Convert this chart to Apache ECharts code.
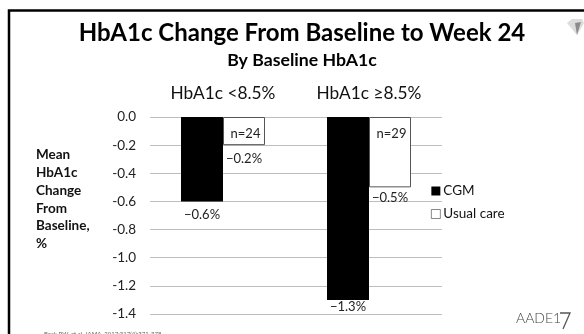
<!DOCTYPE html>
<html>
<head>
<meta charset="utf-8">
<style>html,body{margin:0;padding:0;background:#fff}#c{width:584px;height:334px}</style>
<script src="https://cdn.jsdelivr.net/npm/echarts@6/dist/echarts.min.js"></script>
</head>
<body>
<div id="c"></div>
<script>
// HbA1c change by baseline group
const categories = ['HbA1c <8.5%', 'HbA1c ≥8.5%'];
const cgmValues = [-0.6, -1.3];
const usualValues = [-0.2, -0.5];
const sampleSizes = ['n=24', 'n=29'];
const seriesNames = ['CGM', 'Usual care'];
const FONT = 'Lato, "Open Sans", sans-serif';
const minus = v => '\u2212' + Math.abs(v).toFixed(1) + '%';

const labelBase = {show: true, position: 'bottom', fontFamily: FONT, fontSize: 13, color: '#222',
  formatter: p => minus(p.value)};

const chart = echarts.init(document.getElementById('c'), null, {renderer: 'canvas'});
chart.setOption({
  animation: false,
  backgroundColor: '#fff',
  textStyle: {fontFamily: FONT},
  grid: {left: 150, right: 142, top: 117, bottom: 20},
  legend: {
    left: 431, top: 183, padding: 0, orient: 'vertical', itemWidth: 9, itemHeight: 9, itemGap: 7,
    icon: 'rect',
    itemStyle: {borderWidth: 0.7},
    textStyle: {fontFamily: FONT, fontSize: 13.5, color: '#111', padding: [0, 0, 0, -2], lineHeight: 16},
    data: seriesNames
  },
  xAxis: {
    type: 'category', position: 'top', data: categories,
    axisLine: {show: false}, axisTick: {show: false},
    axisLabel: {fontFamily: FONT, fontSize: 17.3, color: '#111', margin: 15}
  },
  yAxis: {
    type: 'value', min: -1.4, max: 0, interval: 0.2,
    axisLine: {show: false}, axisTick: {show: false},
    axisLabel: {fontFamily: FONT, fontSize: 13.5, color: '#222', margin: 14, padding: [2, 0, 0, 0],
      formatter: v => v.toFixed(1)},
    splitLine: {lineStyle: {color: '#bdbdbd', width: 1}}
  },
  series: [
    {
      name: seriesNames[0], type: 'bar', data: [
        {value: cgmValues[0], label: {distance: 7}},
        {value: cgmValues[1], label: {distance: 0}}
      ], barWidth: 42, barGap: 0,
      itemStyle: {color: '#000'},
      label: labelBase
    },
    {
      name: seriesNames[1], type: 'bar', data: [
        {value: usualValues[0], label: {distance: 7}},
        {value: usualValues[1], label: {distance: 4}}
      ], barWidth: 42,
      itemStyle: {color: '#fff', borderColor: '#555', borderWidth: 1},
      label: labelBase,
      markPoint: {
        symbolSize: 0,
        label: {show: true, position: 'inside', offset: [1.5, 3], fontFamily: FONT, fontSize: 13, color: '#222',
          formatter: p => p.name},
        data: categories.map((c, i) => ({name: sampleSizes[i], coord: [c, -0.1]}))
      }
    }
  ],
  graphic: [
    {type: 'rect', shape: {x: 9, y: 10.5, width: 600, height: 340},
      style: {fill: 'none', stroke: '#000', lineWidth: 2.5}, silent: true},
    {type: 'text', style: {x: 302, y: 33, text: 'HbA1c Change From Baseline to Week 24',
      align: 'center', verticalAlign: 'middle', font: 'bold 24px ' + FONT, fill: '#000'}},
    {type: 'text', style: {x: 302, y: 60, text: 'By Baseline HbA1c',
      align: 'center', verticalAlign: 'middle', font: 'bold 17.7px ' + FONT, fill: '#000'}},
    {type: 'text', style: {x: 36, y: 145.5,
      text: 'Mean\nHbA1c\nChange\nFrom\nBaseline,\n%', font: 'bold 13.5px ' + FONT, lineHeight: 17.9, fill: '#111'}},
    {type: 'text', style: {x: 516, y: 311, text: 'AADE1', font: '300 14px ' + FONT, fill: '#444'}},
    {type: 'polyline', shape: {points: [[560, 313], [570, 313], [563, 329]]},
      style: {fill: 'none', stroke: '#555', lineWidth: 1.3}},
    {type: 'text', style: {x: 44, y: 331, text: 'Beck RW, et al. JAMA. 2017;317(4):371-378.', font: '6px ' + FONT, fill: '#666'}},
    {type: 'polygon', shape: {points: [[567, 23], [572, 19], [582, 19], [584, 23], [577, 35]]},
      style: {fill: '#dcdcdc'}},
    {type: 'polygon', shape: {points: [[575, 23], [581, 22], [577, 35]]},
      style: {fill: '#8c8c8c'}}
  ]
});
</script>
</body>
</html>
